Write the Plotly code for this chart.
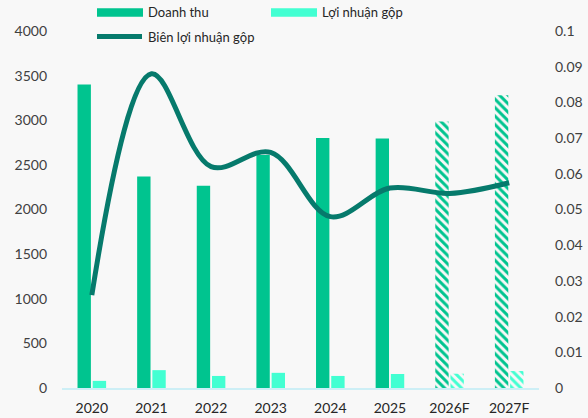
import plotly.graph_objects as go

categories = ["2020", "2021", "2022", "2023", "2024", "2025", "2026F", "2027F"]
doanh_thu = [3400, 2370, 2265, 2610, 2800, 2795, 2985, 3280]
loi_nhuan_gop = [80, 200, 135, 170, 135, 157, 160, 190]
bien_loi_nhuan = [0.026, 0.088, 0.062, 0.066, 0.048, 0.056, 0.0545, 0.0575]
forecast = [False, False, False, False, False, False, True, True]

C_DT = "#00C48F"
C_LN = "#42FFD2"
C_LINE = "#067A6C"
BG = "#F8F8F8"
FONT = "Lato"

W, H = 588, 418
L, R, T, B = 62, 49, 31, 30

patterns = ["\\" if f else "" for f in forecast]

fig = go.Figure()
fig.add_trace(go.Bar(
    x=categories, y=doanh_thu, name="Doanh thu",
    marker=dict(color=C_DT, line=dict(width=0),
                pattern=dict(shape=patterns, size=6, solidity=0.5, fillmode="replace",
                             fgcolor=C_DT, bgcolor=BG)),
    yaxis="y",
))
fig.add_trace(go.Bar(
    x=categories, y=loi_nhuan_gop, name="Lợi nhuận gộp",
    marker=dict(color=C_LN, line=dict(width=0),
                pattern=dict(shape=patterns, size=6, solidity=0.5, fillmode="replace",
                             fgcolor=C_LN, bgcolor=BG)),
    yaxis="y",
))
fig.add_trace(go.Scatter(
    x=categories, y=bien_loi_nhuan, name="Biên lợi nhuận gộp",
    mode="lines", line=dict(color=C_LINE, width=5, shape="spline", smoothing=1.0),
    yaxis="y2",
))

pw = W - L - R
ph = H - T - B


def px_x(p):
    return (p - L) / pw


def px_y(p):
    return (H - B - p) / ph


shapes = [
    dict(type="rect", xref="paper", yref="paper", x0=px_x(97), x1=px_x(143),
         y0=px_y(16.7), y1=px_y(8.3), fillcolor=C_DT, line=dict(width=0)),
    dict(type="rect", xref="paper", yref="paper", x0=px_x(271), x1=px_x(317),
         y0=px_y(16.7), y1=px_y(8.3), fillcolor=C_LN, line=dict(width=0)),
    dict(type="line", xref="paper", yref="paper", x0=px_x(97), x1=px_x(142),
         y0=px_y(36.5), y1=px_y(36.5), line=dict(color=C_LINE, width=5)),
]
annotations = [
    dict(text="Doanh thu", xref="paper", yref="paper", x=px_x(147), y=px_y(12.5),
         xanchor="left", yanchor="middle", showarrow=False, borderpad=0,
         font=dict(family=FONT, size=13, color="#262626")),
    dict(text="Lợi nhuận gộp", xref="paper", yref="paper", x=px_x(321), y=px_y(12.5),
         xanchor="left", yanchor="middle", showarrow=False, borderpad=0,
         font=dict(family=FONT, size=13, color="#262626")),
    dict(text="Biên lợi nhuận gộp", xref="paper", yref="paper", x=px_x(147), y=px_y(37),
         xanchor="left", yanchor="middle", showarrow=False, borderpad=0,
         font=dict(family=FONT, size=13, color="#262626")),
]

fig.update_layout(
    width=W, height=H,
    margin=dict(l=L, r=R, t=T, b=B, pad=0, autoexpand=False),
    paper_bgcolor=BG, plot_bgcolor=BG,
    barmode="group", bargap=0.49, bargroupgap=0.12,
    showlegend=False,
    font=dict(family=FONT, size=14, color="#404040"),
    xaxis=dict(type="category", showgrid=False, showline=True, linecolor="#CDEFF6",
               linewidth=2, ticks="", tickfont=dict(size=14, color="#262626"),
               ticklabelstandoff=6, zeroline=False, automargin=False),
    yaxis=dict(range=[0, 4000], dtick=500, showgrid=False, zeroline=False,
               showline=False, ticks="", tickfont=dict(size=14, color="#404040"),
               ticklabelstandoff=14, automargin=False),
    yaxis2=dict(range=[0, 0.1], dtick=0.01, overlaying="y", side="right",
                showgrid=False, zeroline=False, showline=False, ticks="",
                tickfont=dict(size=14, color="#404040"), ticklabelstandoff=15,
                tickformat="~g", automargin=False),
    shapes=shapes, annotations=annotations,
)

fig.write_html("out.html", config={"displayModeBar": False},
               post_script="document.body.style.margin='0';document.body.style.background='%s';" % BG)
